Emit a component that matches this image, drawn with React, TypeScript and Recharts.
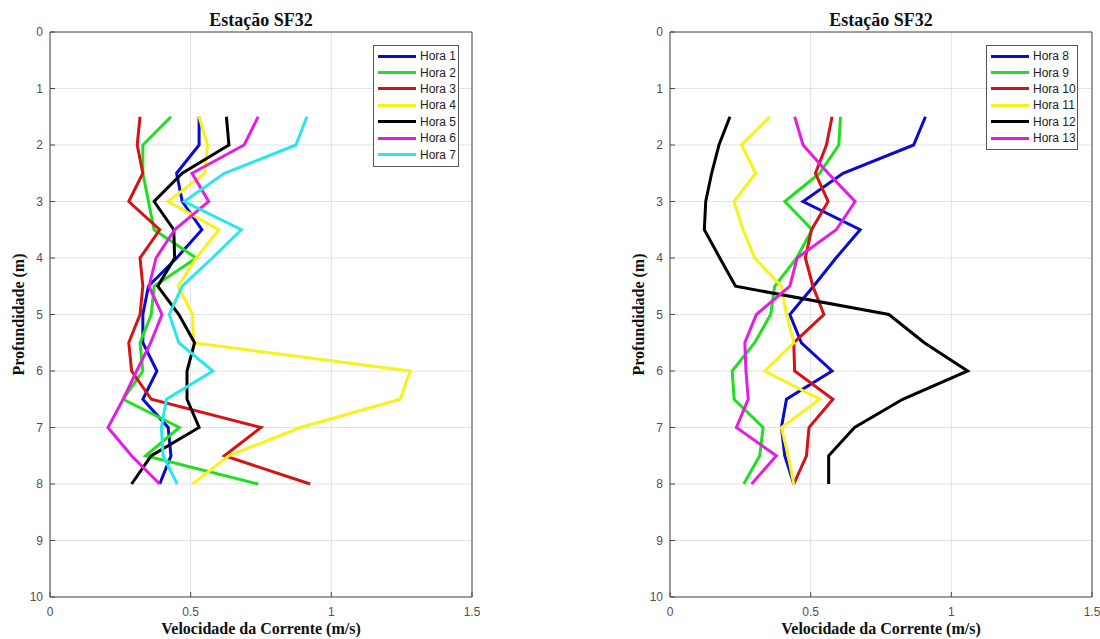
import React from "react";
import { LineChart, Line, XAxis, YAxis, CartesianGrid, Legend } from "recharts";

const depths = [1.5, 2, 2.5, 3, 3.5, 4, 4.5, 5, 5.5, 6, 6.5, 7, 7.5, 8];
const xTicks = [0, 0.5, 1, 1.5];
const yTicks = [0, 1, 2, 3, 4, 5, 6, 7, 8, 9, 10];

// left panel
const hora1 = [0.53, 0.53, 0.45, 0.47, 0.54, 0.45, 0.35, 0.33, 0.33, 0.38, 0.33, 0.42, 0.43, 0.39];
const hora2 = [0.43, 0.33, 0.33, 0.35, 0.37, 0.52, 0.37, 0.36, 0.32, 0.33, 0.26, 0.46, 0.34, 0.74];
const hora3 = [0.32, 0.31, 0.33, 0.28, 0.39, 0.32, 0.33, 0.32, 0.28, 0.29, 0.36, 0.75, 0.62, 0.925];
const hora4 = [0.53, 0.56, 0.55, 0.42, 0.6, 0.52, 0.455, 0.507, 0.51, 1.28, 1.245, 0.89, 0.635, 0.507];
const hora5 = [0.627, 0.636, 0.47, 0.37, 0.44, 0.443, 0.383, 0.458, 0.514, 0.487, 0.487, 0.53, 0.36, 0.29];
const hora6 = [0.74, 0.69, 0.505, 0.564, 0.443, 0.377, 0.352, 0.398, 0.358, 0.308, 0.26, 0.206, 0.29, 0.39];
const hora7 = [0.913, 0.874, 0.62, 0.477, 0.68, 0.577, 0.47, 0.424, 0.458, 0.579, 0.414, 0.396, 0.402, 0.452];

// right panel
const hora8 = [0.908, 0.866, 0.615, 0.473, 0.676, 0.59, 0.51, 0.426, 0.467, 0.576, 0.414, 0.396, 0.408, 0.44];
const hora9 = [0.606, 0.6, 0.532, 0.408, 0.505, 0.45, 0.372, 0.358, 0.301, 0.221, 0.228, 0.331, 0.319, 0.262];
const hora10 = [0.576, 0.556, 0.517, 0.562, 0.503, 0.481, 0.508, 0.547, 0.44, 0.443, 0.579, 0.494, 0.485, 0.44];
const hora11 = [0.355, 0.254, 0.305, 0.227, 0.26, 0.301, 0.396, 0.414, 0.44, 0.337, 0.532, 0.396, 0.42, 0.44];
const hora12 = [0.213, 0.174, 0.148, 0.127, 0.122, 0.177, 0.233, 0.778, 0.904, 1.058, 0.827, 0.656, 0.564, 0.564];
const hora13 = [0.443, 0.473, 0.562, 0.658, 0.591, 0.452, 0.426, 0.307, 0.266, 0.27, 0.278, 0.236, 0.378, 0.29];

const BLUE = "#0a0ad0";
const GREEN = "#1fe01f";
const RED = "#d41414";
const YELLOW = "#f7f21a";
const BLACK = "#000000";
const MAGENTA = "#e31ee3";
const CYAN = "#2be6f0";

type Series = { name: string; color: string; values: number[] };

const leftSeries: Series[] = [
  { name: "Hora 1", color: BLUE, values: hora1 },
  { name: "Hora 2", color: GREEN, values: hora2 },
  { name: "Hora 3", color: RED, values: hora3 },
  { name: "Hora 4", color: YELLOW, values: hora4 },
  { name: "Hora 5", color: BLACK, values: hora5 },
  { name: "Hora 6", color: MAGENTA, values: hora6 },
  { name: "Hora 7", color: CYAN, values: hora7 },
];

const rightSeries: Series[] = [
  { name: "Hora 8", color: BLUE, values: hora8 },
  { name: "Hora 9", color: GREEN, values: hora9 },
  { name: "Hora 10", color: RED, values: hora10 },
  { name: "Hora 11", color: YELLOW, values: hora11 },
  { name: "Hora 12", color: BLACK, values: hora12 },
  { name: "Hora 13", color: MAGENTA, values: hora13 },
];

const AXIS = "#4a4a4a";
const TICK = { fill: "#505050", fontSize: 12, fontFamily: "Liberation Sans, Arial, sans-serif" };
const SERIF = "Liberation Serif, Times New Roman, serif";

// legend keeps the series order (recharts sorts by name otherwise)
const LegendBox = ({ payload, boxWidth, order }: any) => {
  const items = [...(payload || [])].sort(
    (a: any, b: any) => order.indexOf(a.value) - order.indexOf(b.value)
  );
  return (
    <div
      style={{
        width: boxWidth,
        boxSizing: "border-box",
        border: "1px solid #555",
        background: "#fff",
        padding: "2px 0 3px 0",
        fontFamily: "Liberation Sans, Arial, sans-serif",
        fontSize: 12,
        color: "#222",
      }}
    >
      {items.map((p: any) => (
        <div key={p.value} style={{ display: "flex", alignItems: "center", height: 16.4 }}>
          <div style={{ width: 38, height: 3, background: p.color, marginLeft: 4, marginRight: 4 }} />
          <span>{p.value}</span>
        </div>
      ))}
    </div>
  );
};

const Panel = ({ series, legendLeft, legendWidth }: { series: Series[]; legendLeft: number; legendWidth: number }) => {
  const rows = depths.map((d, i) => {
    const r: Record<string, number> = { depth: d };
    series.forEach((s) => {
      r[s.name] = s.values[i];
    });
    return r;
  });
  const order = series.map((s) => s.name);

  return (
    <LineChart
      layout="vertical"
      width={480}
      height={639}
      data={rows}
      margin={{ top: 0, right: 0, bottom: 0, left: 0 }}
    >
      <CartesianGrid stroke="#e2e2e2" strokeWidth={1} />
      <XAxis
        type="number"
        domain={[0, 1.5]}
        ticks={xTicks}
        height={42}
        tickSize={-5}
        tickMargin={15}
        stroke={AXIS}
        tick={TICK}
        label={{
          value: "Velocidade da Corrente (m/s)",
          position: "insideBottom",
          offset: 5,
          fill: "#111",
          fontSize: 16,
          fontWeight: "bold",
          fontFamily: SERIF,
        }}
      />
      <XAxis
        xAxisId="top"
        orientation="top"
        type="number"
        domain={[0, 1.5]}
        ticks={xTicks}
        height={32}
        tickSize={-5}
        tick={false}
        stroke={AXIS}
        label={{
          value: "Estação SF32",
          position: "insideTop",
          offset: 13,
          fill: "#111",
          fontSize: 18,
          fontWeight: "bold",
          fontFamily: SERIF,
        }}
      />
      <YAxis
        type="number"
        dataKey="depth"
        domain={[0, 10]}
        ticks={yTicks}
        width={50}
        tickSize={-5}
        tickMargin={12}
        stroke={AXIS}
        tick={TICK}
        label={{
          value: "Profundidade (m)",
          angle: -90,
          position: "insideLeft",
          offset: 18,
          fill: "#111",
          fontSize: 16,
          fontWeight: "bold",
          fontFamily: SERIF,
          style: { textAnchor: "middle" },
        }}
      />
      <YAxis
        yAxisId="right"
        orientation="right"
        type="number"
        domain={[0, 10]}
        ticks={yTicks}
        width={8}
        tickSize={-5}
        tick={false}
        stroke={AXIS}
      />
      <Legend
        layout="horizontal"
        verticalAlign="middle"
        content={<LegendBox boxWidth={legendWidth} order={order} />}
        wrapperStyle={{ left: legendLeft, top: 45, width: legendWidth }}
      />
      {series.map((s) => (
        <Line
          key={s.name}
          type="linear"
          dataKey={s.name}
          name={s.name}
          stroke={s.color}
          strokeWidth={3}
          dot={false}
          isAnimationActive={false}
        />
      ))}
    </LineChart>
  );
};

export default function App() {
  return (
    <div style={{ position: "absolute", left: 0, top: 0, width: 1100, height: 639, background: "#fff" }}>
      <div style={{ position: "absolute", left: 0, top: 0 }}>
        <Panel series={leftSeries} legendLeft={373} legendWidth={86} />
      </div>
      <div style={{ position: "absolute", left: 620, top: 0 }}>
        <Panel series={rightSeries} legendLeft={366} legendWidth={92} />
      </div>
    </div>
  );
}
